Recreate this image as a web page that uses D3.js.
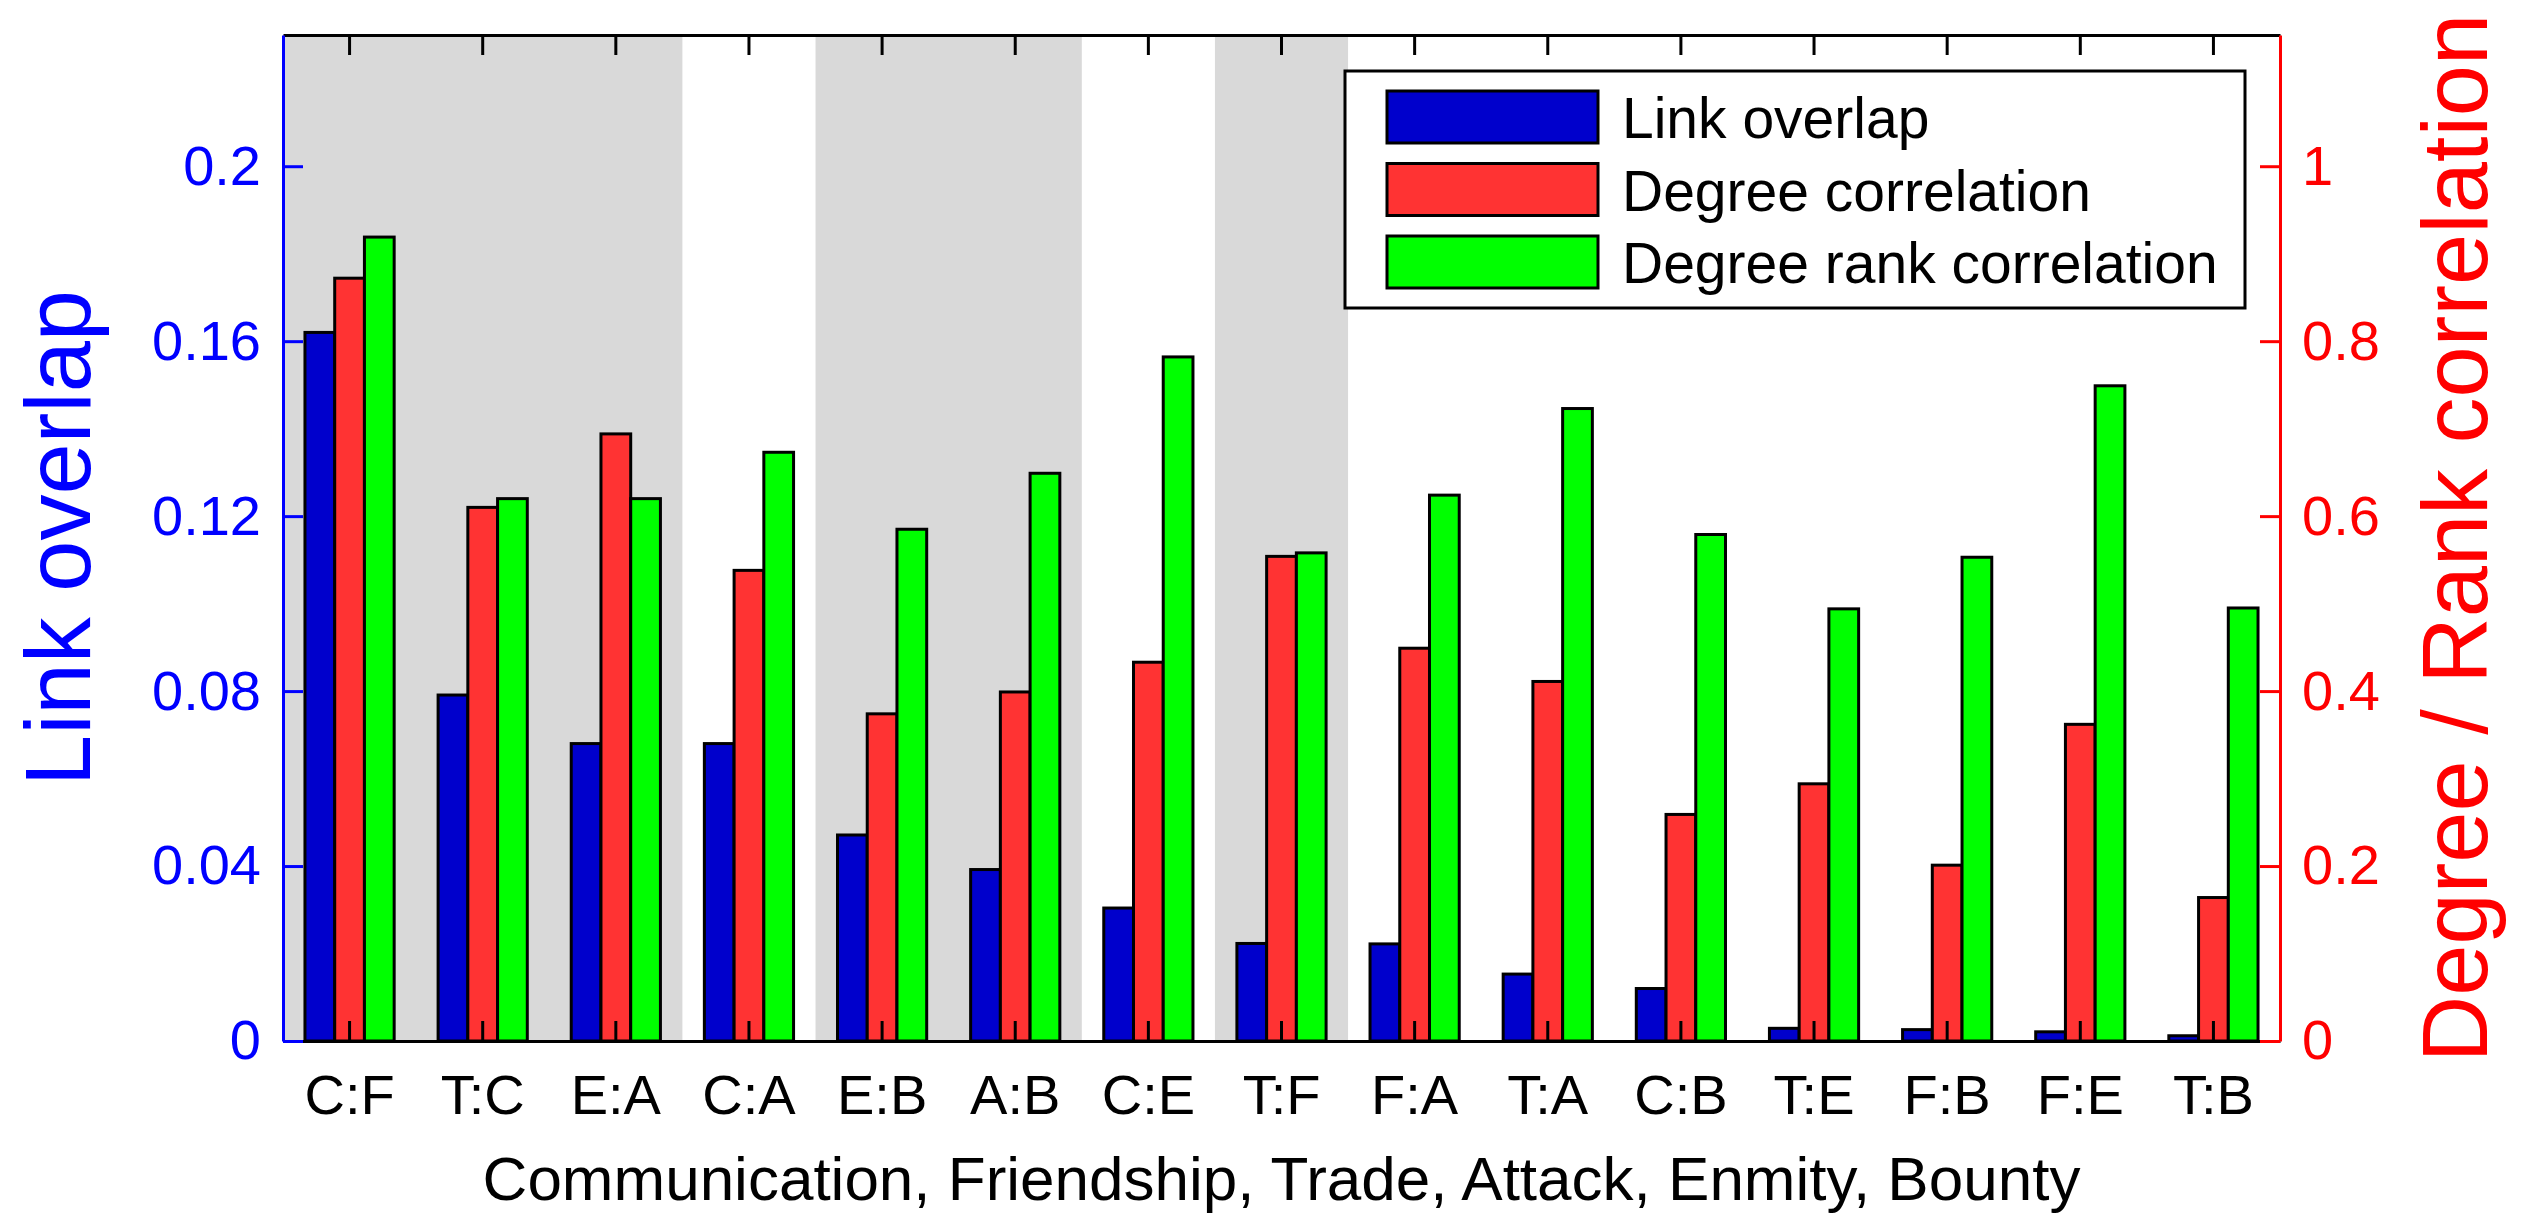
<!DOCTYPE html>
<html>
<head>
<meta charset="utf-8">
<script src="https://cdn.jsdelivr.net/npm/d3@7"></script>
<style>
  html, body { margin: 0; padding: 0; background: #ffffff; }
  svg { display: block; }
  text { font-family: "Liberation Sans", Arial, Helvetica, sans-serif; }
</style>
</head>
<body>
<svg id="chart" width="2540" height="1214"></svg>
<script>
// ---------------- data ----------------
const categories = ["C:F","T:C","E:A","C:A","E:B","A:B","C:E","T:F","F:A","T:A","C:B","T:E","F:B","F:E","T:B"];
const linkOverlap = [0.162, 0.0791, 0.068, 0.068, 0.0471, 0.0392, 0.0304, 0.0223, 0.0222, 0.0153, 0.012, 0.0029, 0.0026, 0.0021, 0.0012];
const degreeCorr  = [0.872, 0.610, 0.694, 0.538, 0.374, 0.399, 0.433, 0.554, 0.449, 0.411, 0.259, 0.294, 0.201, 0.362, 0.164];
const rankCorr    = [0.919, 0.620, 0.620, 0.673, 0.585, 0.649, 0.782, 0.558, 0.624, 0.723, 0.579, 0.494, 0.553, 0.749, 0.495];
const seriesNames = ["Link overlap", "Degree correlation", "Degree rank correlation"];
const leftTicks  = [0, 0.04, 0.08, 0.12, 0.16, 0.2];
const leftTickLabels  = ["0", "0.04", "0.08", "0.12", "0.16", "0.2"];
const rightTicks = [0, 0.2, 0.4, 0.6, 0.8, 1];
const rightTickLabels = ["0", "0.2", "0.4", "0.6", "0.8", "1"];
const shadedGroups = [["C:F","E:A"], ["E:B","A:B"], ["T:F","T:F"]];
const xTitle = "Communication, Friendship, Trade, Attack, Enmity, Bounty";
const leftTitle = "Link overlap";
const rightTitle = "Degree / Rank correlation";

// ---------------- layout ----------------
const L = 283, R = 2280, T = 35, B = 1041;
const colors = ["#0000cc", "#ff3333", "#00ff00"];
const font = 56;

const svg = d3.select("#chart");

const x = d3.scaleBand().domain(categories).range([L, R]).paddingInner(0).paddingOuter(0);
const bw = x.bandwidth();
const sub = d3.scaleBand().domain([0,1,2]).range([0.165 * bw, 0.835 * bw]).padding(0);
const yL = d3.scaleLinear().domain([0, 0.23]).range([B, T]);
const yR = d3.scaleLinear().domain([0, 1.15]).range([B, T]);

// shaded bands
svg.append("g").selectAll("rect").data(shadedGroups).join("rect")
  .attr("x", d => x(d[0]))
  .attr("y", T)
  .attr("width", d => x(d[1]) + bw - x(d[0]))
  .attr("height", B - T)
  .attr("fill", "#d9d9d9");

// bars
const rows = categories.map((c, i) => ({c, vals: [
  {s: 0, v: linkOverlap[i], y: yL},
  {s: 1, v: degreeCorr[i], y: yR},
  {s: 2, v: rankCorr[i], y: yR}
]}));
const groups = svg.append("g").selectAll("g").data(rows).join("g")
  .attr("transform", d => `translate(${x(d.c)},0)`);
groups.selectAll("rect").data(d => d.vals).join("rect")
  .attr("x", d => sub(d.s))
  .attr("width", sub.bandwidth())
  .attr("y", d => d.y(d.v))
  .attr("height", d => B - d.y(d.v))
  .attr("fill", d => colors[d.s])
  .attr("stroke", "#000")
  .attr("stroke-width", 3);

// axes
function styleAxis(g, color, textColor) {
  g.select(".domain").attr("stroke", color).attr("stroke-width", 3);
  g.selectAll(".tick line").attr("stroke", color).attr("stroke-width", 3);
  g.selectAll(".tick text").attr("fill", textColor).attr("font-size", font)
    .attr("font-family", '"Liberation Sans", Arial, sans-serif');
}

const topAx = svg.append("g").attr("transform", `translate(0,${T})`)
  .call(d3.axisTop(x).tickSize(-20).tickSizeOuter(0).tickFormat(""));
styleAxis(topAx, "#000", "#000");

const botAx = svg.append("g").attr("transform", `translate(0,${B})`)
  .call(d3.axisBottom(x).tickSize(-20).tickSizeOuter(0).tickPadding(33));
styleAxis(botAx, "#000", "#000");

const leftAx = svg.append("g").attr("transform", `translate(${L},0)`)
  .call(d3.axisLeft(yL).tickValues(leftTicks).tickFormat((d, i) => leftTickLabels[i])
    .tickSize(-20).tickSizeOuter(0).tickPadding(22));
styleAxis(leftAx, "#0000ff", "#0000ff");

const rightAx = svg.append("g").attr("transform", `translate(${R},0)`)
  .call(d3.axisRight(yR).tickValues(rightTicks).tickFormat((d, i) => rightTickLabels[i])
    .tickSize(-20).tickSizeOuter(0).tickPadding(22));
styleAxis(rightAx, "#ff0000", "#ff0000");

// legend
const lg = svg.append("g");
lg.append("rect").attr("x", 1345).attr("y", 71).attr("width", 900).attr("height", 237)
  .attr("fill", "#fff").attr("stroke", "#000").attr("stroke-width", 3);
const legendY = d3.scalePoint().domain(seriesNames).range([117, 262]);
lg.selectAll("rect.sw").data(seriesNames).join("rect").attr("class", "sw")
  .attr("x", 1387).attr("y", d => legendY(d) - 26).attr("width", 211).attr("height", 52)
  .attr("fill", (d, i) => colors[i]).attr("stroke", "#000").attr("stroke-width", 3);
lg.selectAll("text").data(seriesNames).join("text")
  .attr("x", 1622).attr("y", d => legendY(d) + 21)
  .attr("font-size", 57).attr("fill", "#000").text(d => d);

// titles
svg.append("text").attr("x", (L + R) / 2).attr("y", 1200).attr("text-anchor", "middle")
  .attr("font-size", 62).attr("fill", "#000").text(xTitle);
svg.append("text").attr("transform", `translate(90,${(T + B) / 2}) rotate(-90)`)
  .attr("text-anchor", "middle").attr("font-size", 92).attr("fill", "#0000ff").text(leftTitle);
svg.append("text").attr("transform", `translate(2487,${(T + B) / 2}) rotate(-90)`)
  .attr("text-anchor", "middle").attr("font-size", 92).attr("fill", "#ff0000").text(rightTitle);
</script>
</body>
</html>
